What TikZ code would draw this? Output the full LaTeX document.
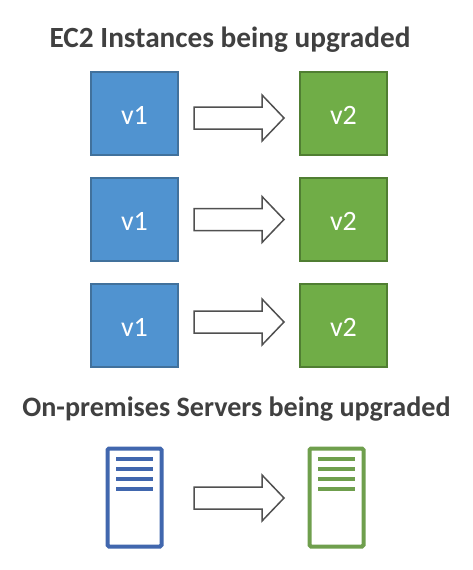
\documentclass[tikz,border=0pt]{standalone}
\usepackage{fontspec}
\setmainfont{Carlito}
\usetikzlibrary{calc}
\definecolor{bluefill}{HTML}{5093D0}
\definecolor{blueline}{HTML}{41719C}
\definecolor{greenfill}{HTML}{70AD47}
\definecolor{greenline}{HTML}{507E32}
\definecolor{srvblue}{HTML}{4167AE}
\definecolor{srvgreen}{HTML}{6F9F4D}
\definecolor{arrowline}{HTML}{505050}
\tikzset{
  ver/.style={minimum width=87pt,minimum height=83pt,inner sep=0pt,outer sep=0pt,line width=1.2pt,text=white,text height=22pt,text depth=0pt,font=\fontsize{28}{28}\selectfont},
  vone/.style={ver,draw=blueline,fill=bluefill},
  vtwo/.style={ver,draw=greenline,fill=greenfill},
  headone/.style={font=\fontsize{29.3}{30}\selectfont\bfseries,text=black!75,inner sep=0pt},
  headtwo/.style={font=\fontsize{28.1}{30}\selectfont\bfseries,text=black!75,inner sep=0pt},
  blockarrow/.style={draw=arrowline,fill=white,line width=1.5pt,line join=miter},
  server/.style={minimum width=54pt,minimum height=98pt,inner sep=0pt,outer sep=0pt,line width=4pt,rounded corners=1.5pt,fill=white},
  srvbar/.style={line width=4pt}
}
\newcommand{\blockarrow}[1]{%
  \draw[blockarrow] ($(#1)+(-45,-11)$) -- ($(#1)+(23,-11)$) -- ($(#1)+(23,-23)$) -- ($(#1)+(45,0)$)
    -- ($(#1)+(23,23)$) -- ($(#1)+(23,11)$) -- ($(#1)+(-45,11)$) -- cycle;}
\begin{document}
\begin{tikzpicture}[x=1pt,y=-1pt]
\useasboundingbox (0,0) rectangle (473,570);
\node[headone] (t1) at (230,40) {EC2 Instances being upgraded};
\node[headtwo] (t2) at (236.5,409) {On-premises Servers being upgraded};
\foreach \r/\y/\m in {a/113.5/118,b/219.5/219.5,c/325.5/322}{
  \node[vone] (\r1) at (134.5,\y) {v1};
  \node[vtwo] (\r2) at (343.5,\y) {v2};
  \coordinate (\r m) at (239,\m);
  \blockarrow{\r m}
}
\coordinate (sm) at (239,498);
\blockarrow{sm}
\node[server,draw=srvblue] (s1) at (134.5,497.5) {};
\node[server,draw=srvgreen] (s2) at (336.5,497.5) {};
\foreach \s/\c in {s1/srvblue,s2/srvgreen}{
  \foreach \d in {-38.5,-28.5,-18.5,-8.5}{
    \draw[srvbar,draw=\c] ($(\s.center)+(-18.5,\d)$) -- ($(\s.center)+(18.5,\d)$);
  }
}
\end{tikzpicture}
\end{document}
